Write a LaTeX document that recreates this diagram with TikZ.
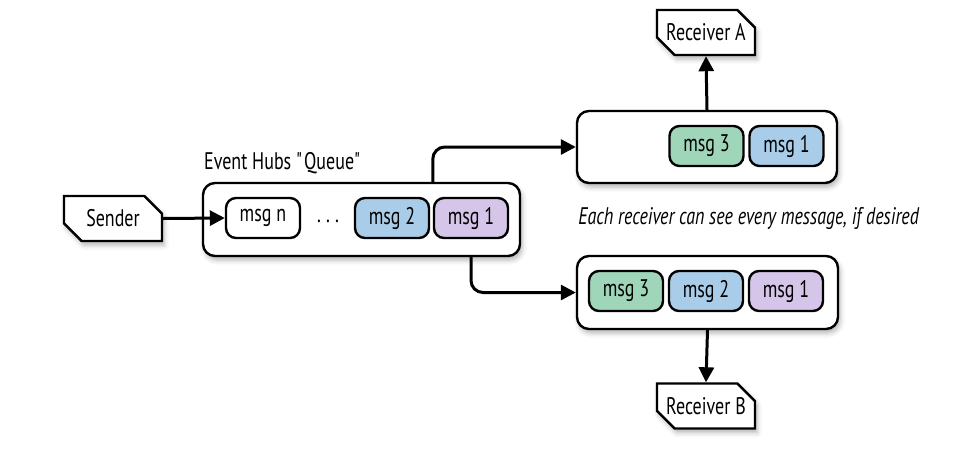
\documentclass[tikz,border=0pt]{standalone}
\usepackage{fontspec}
\setmainfont{PT Sans}[FakeStretch=0.75]
\definecolor{MSGgreen}{HTML}{9FD6B9}
\definecolor{MSGblue}{HTML}{A9CDE9}
\definecolor{MSGpurple}{HTML}{D5C5E9}
\usetikzlibrary{arrows.meta, shapes.misc, shadows.blur}

\begin{document}
\begin{tikzpicture}[x=0.5pt, y=-0.5pt,
   every node/.style={font=\fontsize{12}{14}\selectfont, inner sep=0pt},
   softshadow/.style={blur shadow={shadow xshift=1pt, shadow yshift=-2pt, shadow blur radius=2.5pt, shadow opacity=30}},
   endpoint/.style={chamfered rectangle, chamfered rectangle corners={north east, south west}, chamfered rectangle sep=4.5pt, draw, line width=1.2pt, fill=white, minimum width=49pt, minimum height=22.5pt, softshadow},
   holder/.style={draw, line width=1.2pt, rounded corners=6pt, fill=white, softshadow},
   msgbox/.style={draw, line width=1.2pt, rounded corners=5pt, minimum width=37pt, minimum height=20pt},
   conn/.style={line width=1.5pt, -{Triangle[length=7.5pt, width=7.5pt]}, rounded corners=6pt}]
      \useasboundingbox (0,0) rectangle (976,451);
      % Sender
      \node[endpoint] (sender) at (113,218.5) {Sender};
      % Event Hubs queue
      \node[holder, minimum width=158.5pt, minimum height=36.5pt] (queue) at (361.5,219.5) {};
      \node[above right, inner sep=1pt] (qlabel) at ([yshift=3pt]queue.north west) {Event Hubs \textquotedbl Queue\textquotedbl};
      \node[msgbox, fill=white] (qn) at (263,218) {msg n};
      \node (qdots) at (328,221) {.\hspace{2.6pt}.\hspace{2.6pt}.};
      \node[msgbox, fill=MSGblue] (q2) at (392,218) {msg 2};
      \node[msgbox, fill=MSGpurple] (q1) at (471,218) {msg 1};
      % Receiver A side
      \node[holder, minimum width=130pt, minimum height=36pt] (boxa) at (707,147) {};
      \node[msgbox, fill=MSGgreen] (a3) at (706.5,146) {msg 3};
      \node[msgbox, fill=MSGblue] (a1) at (786.5,146) {msg 1};
      \node[endpoint] (recva) at (706,32.5) {Receiver A};
      % Receiver B side
      \node[holder, minimum width=130.5pt, minimum height=36.5pt] (boxb) at (707.5,292.5) {};
      \node[msgbox, fill=MSGgreen] (b3) at (626,291) {msg 3};
      \node[msgbox, fill=MSGblue] (b2) at (706,291) {msg 2};
      \node[msgbox, fill=MSGpurple] (b1) at (786,291) {msg 1};
      \node[endpoint] (recvb) at (706,406) {Receiver B};
      % Note
      \node[anchor=west, font=\fontsize{12}{14}\selectfont\itshape] (note) at (578,218) {Each receiver can see every message, if desired};
      % Connectors
      \draw[conn] (sender.east) -- (qn.west);
      \draw[conn] (q1.west |- queue.north) |- (boxa.west);
      \draw[conn] (q1.center |- queue.south) |- (boxb.west);
      \draw[conn] (boxa.north) -- (recva.south);
      \draw[conn] (boxb.south) -- (recvb.north);
   \end{tikzpicture}
\end{document}
